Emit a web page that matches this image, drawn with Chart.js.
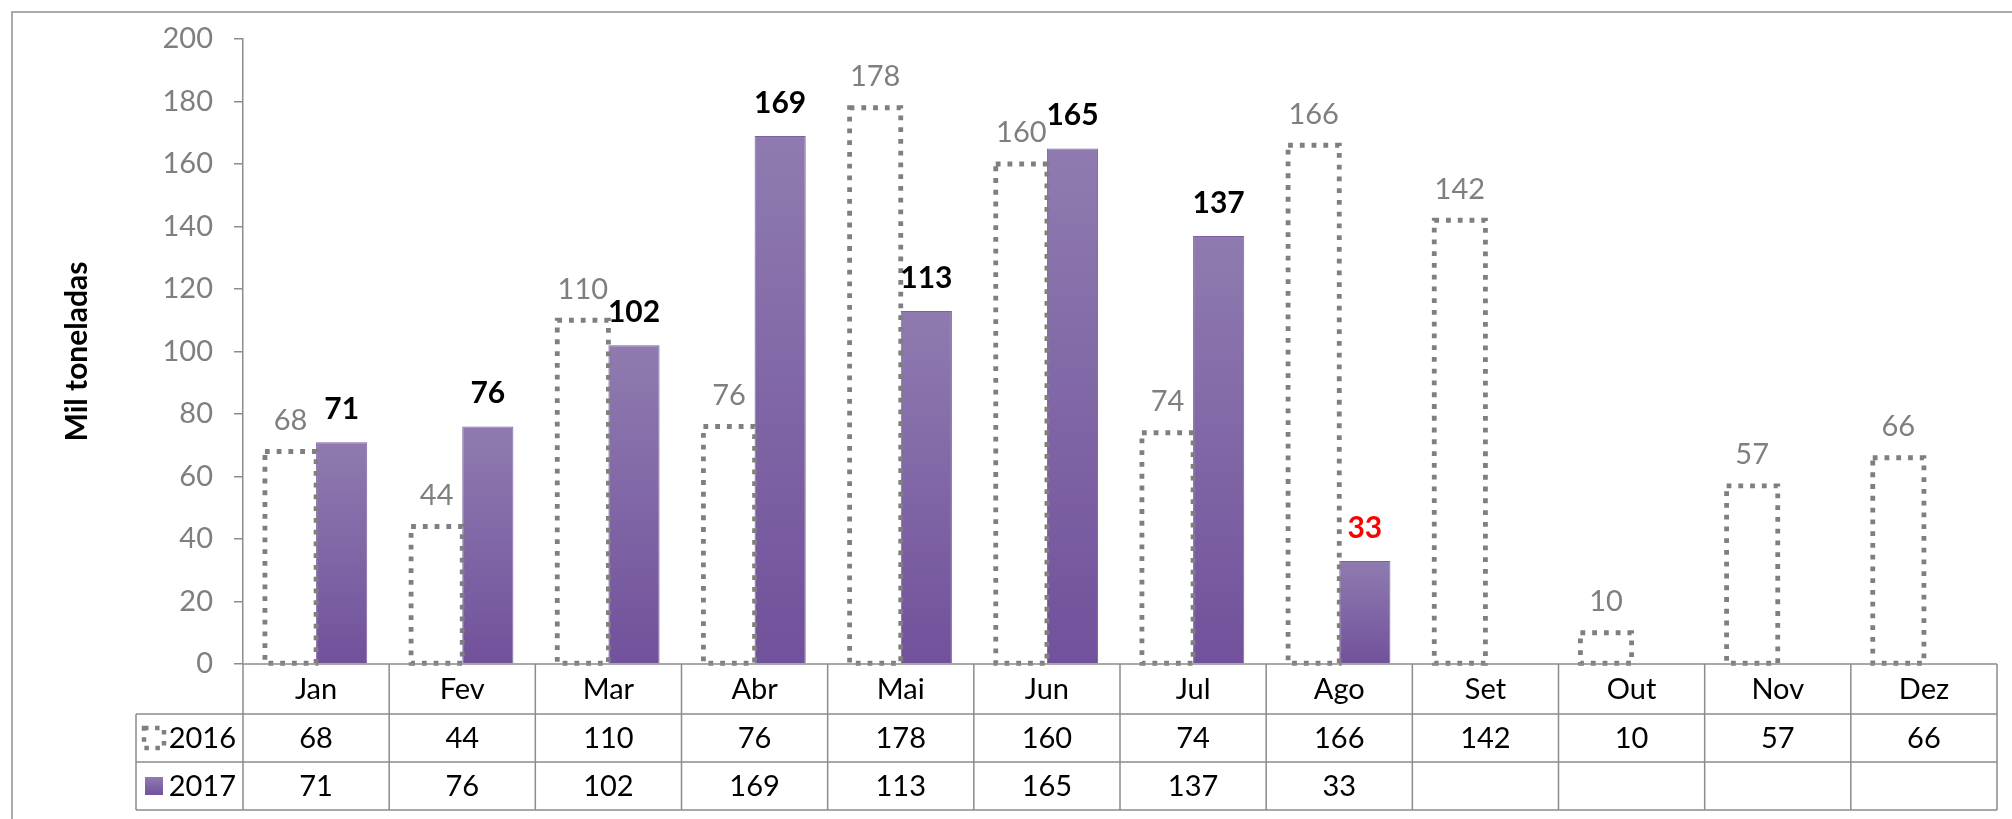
<!DOCTYPE html>
<html>
<head>
<meta charset="utf-8">
<script src="https://cdn.jsdelivr.net/npm/chart.js@4.4.1/dist/chart.umd.min.js"></script>
<style>
  html, body { margin: 0; padding: 0; background: #fff; }
  #wrap { width: 2012px; height: 819px; }
</style>
</head>
<body>
<div id="wrap"><canvas id="myChart" width="2012" height="819"></canvas></div>
<script>
const months = ['Jan', 'Fev', 'Mar', 'Abr', 'Mai', 'Jun', 'Jul', 'Ago', 'Set', 'Out', 'Nov', 'Dez'];
const values2016 = [68, 44, 110, 76, 178, 160, 74, 166, 142, 10, 57, 66];
const values2017 = [71, 76, 102, 169, 113, 165, 137, 33, null, null, null, null];
const yTicks = [0, 20, 40, 60, 80, 100, 120, 140, 160, 180, 200];
const highlightMonth = 'Ago';

const FONT = 'Lato, "Noto Sans", sans-serif';
const GRID = '#8c8c8c';
const DOT = '#7f7f7f';
Chart.defaults.font.family = FONT;

function purpleFill(c, top, bottom) {
    const g = c.createLinearGradient(0, top, 0, bottom);
    g.addColorStop(0, '#8f7bb0');
    g.addColorStop(1, '#71519b');
    return g;
}

function dottedRect(c, x, y, w, h, lw) {
    c.save();
    c.strokeStyle = DOT;
    c.lineWidth = lw;
    c.setLineDash([lw, lw * 1.45]);
    c.strokeRect(x, y, w, h);
    c.restore();
}

// outer frame + white background
const framePlugin = {
    id: 'frame',
    beforeDraw(chart) {
        const c = chart.ctx;
        c.save();
        c.fillStyle = '#fff';
        c.fillRect(0, 0, chart.width, chart.height);
        c.strokeStyle = '#8e8e8e';
        c.lineWidth = 1.5;
        c.strokeRect(12, 12, chart.width, chart.height);
        c.restore();
    }
};

// dotted 2016 bars and value labels
const barsPlugin = {
    id: 'bars',
    afterDatasetsDraw(chart) {
        const c = chart.ctx;
        const m16 = chart.getDatasetMeta(0);
        m16.data.forEach((bar, i) => {
            const p = bar.getProps(['x', 'y', 'base', 'width']);
            dottedRect(c, p.x - p.width / 2, p.y, p.width, p.base - p.y, 4.8);
        });
        c.save();
        c.textAlign = 'center';
        c.textBaseline = 'middle';
        c.font = '29px ' + FONT;
        c.fillStyle = DOT;
        m16.data.forEach((bar, i) => {
            c.fillText(values2016[i], bar.x, bar.y - 31);
        });
        c.font = 'bold 30px ' + FONT;
        chart.getDatasetMeta(1).data.forEach((bar, i) => {
            if (values2017[i] == null) return;
            c.fillStyle = months[i] === highlightMonth ? '#ff0000' : '#000';
            c.fillText(values2017[i], bar.x, bar.y - 33);
        });
        c.restore();
    }
};

// data table under the x axis
const tablePlugin = {
    id: 'table',
    afterDraw(chart) {
        const c = chart.ctx;
        const x = chart.scales.x;
        const area = chart.chartArea;
        const colW = x.getPixelForValue(1) - x.getPixelForValue(0);
        const left = area.left, right = area.right;
        const legendLeft = 136;
        const r0 = area.bottom, r1 = r0 + 50, r2 = r1 + 48, r3 = r2 + 48;

        c.save();
        c.strokeStyle = GRID;
        c.lineWidth = 1.5;
        c.beginPath();
        for (let k = 0; k <= months.length; k++) {
            const xx = left + k * colW;
            c.moveTo(xx, r0);
            c.lineTo(xx, r3);
        }
        c.moveTo(legendLeft, r1); c.lineTo(legendLeft, r3);
        [r1, r2, r3].forEach(yy => { c.moveTo(legendLeft, yy); c.lineTo(right, yy); });
        c.moveTo(left, r0); c.lineTo(right, r0);
        c.stroke();

        c.font = '29px ' + FONT;
        c.fillStyle = '#000';
        c.textAlign = 'center';
        c.textBaseline = 'middle';
        months.forEach((mo, i) => {
            const cx = x.getPixelForValue(i);
            c.fillText(mo, cx, (r0 + r1) / 2 + 1);
            c.fillText(values2016[i], cx, (r1 + r2) / 2 + 1);
            if (values2017[i] != null) c.fillText(values2017[i], cx, (r2 + r3) / 2 + 1);
        });

        // legend keys
        c.textAlign = 'right';
        c.fillText('2016', left - 7, (r1 + r2) / 2 + 1);
        c.fillText('2017', left - 7, (r2 + r3) / 2 + 1);
        dottedRect(c, 144, (r1 + r2) / 2 - 10, 20, 20, 4.5);
        const ky = (r2 + r3) / 2 - 9;
        c.fillStyle = purpleFill(c, ky, ky + 18);
        c.fillRect(145, ky, 18, 18);
        c.restore();
    }
};

const ctx = document.getElementById('myChart').getContext('2d');
const myChart = new Chart(ctx, {
    type: 'bar',
    data: {
        labels: months,
        datasets: [{
            label: '2016',
            data: values2016,
            backgroundColor: 'rgba(255,255,255,0)',
            borderWidth: 0,
        }, {
            label: '2017',
            data: values2017,
            backgroundColor(context) {
                const chart = context.chart;
                const y = chart.scales.y;
                if (!chart.chartArea || !y || context.raw == null) return '#8064a2';
                return purpleFill(chart.ctx, y.getPixelForValue(context.raw), y.getPixelForValue(0));
            },
            borderColor: '#7b61a0',
            borderWidth: 1,
        }]
    },
    options: {
        responsive: false,
        animation: false,
        layout: {
            padding: { top: 39, right: 15, bottom: 9, left: 0 }
        },
        datasets: {
            bar: { categoryPercentage: 0.7, barPercentage: 1.0 }
        },
        scales: {
            x: {
                grid: { display: false },
                border: { display: false },
                ticks: { display: false },
                afterFit(scale) { scale.height = 146; }
            },
            y: {
                min: 0,
                max: 200,
                afterBuildTicks(scale) { scale.ticks = yTicks.map(v => ({ value: v })); },
                grid: { drawOnChartArea: false, drawTicks: true, tickLength: 9, color: GRID, lineWidth: 1.5 },
                border: { display: true, color: GRID, width: 1.5 },
                ticks: { color: DOT, font: { size: 29 }, padding: 21 },
                title: {
                    display: true,
                    text: 'Mil toneladas',
                    color: '#000',
                    font: { size: 30, weight: 'bold' },
                    padding: { top: 59, bottom: 0 }
                },
                afterFit(scale) { scale.width = 243; }
            }
        },
        plugins: {
            legend: { display: false },
            tooltip: { enabled: false }
        }
    },
    plugins: [framePlugin, barsPlugin, tablePlugin]
});
</script>
</body>
</html>
